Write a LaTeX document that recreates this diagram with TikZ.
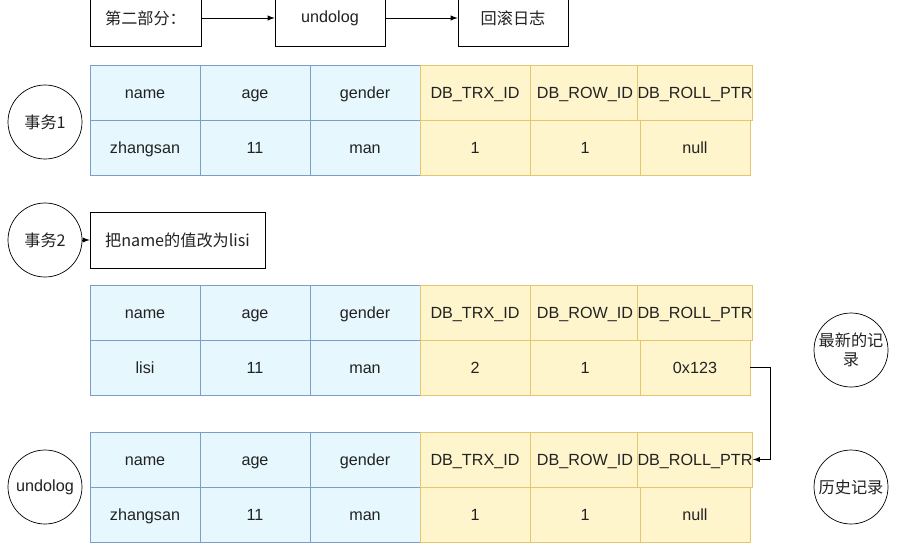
\documentclass[tikz,border=0pt]{standalone}
\usepackage{fontspec}
\setmainfont{Liberation Sans}
\newfontfamily\cjk{Noto Sans CJK SC}
\definecolor{cellblue}{HTML}{E6F8FE}
\definecolor{lineblue}{HTML}{7C9CCB}
\definecolor{cellyellow}{HTML}{FFF5CC}
\definecolor{lineyellow}{HTML}{E5C56E}
\definecolor{ink}{HTML}{222222}
\newcommand\pickcol[1]{\ifnum#1<4 \def\fc{cellblue}\def\dc{lineblue}\else\def\fc{cellyellow}\def\dc{lineyellow}\fi}

\tikzset{
  cell/.style={minimum width=2.2cm, minimum height=1.1cm, inner sep=0pt,
    text height=1.6ex, text depth=0.3ex},
  plainbox/.style={draw, minimum height=1.12cm, inner sep=0pt},
  ring/.style={draw, circle, minimum size=1.48cm, inner sep=0pt, align=center},
}

\begin{document}
\begin{tikzpicture}[x=0.02cm, y=-0.02cm, >=latex, font=\fontsize{9.2}{11}\selectfont, text=ink]
  \useasboundingbox (0,0) rectangle (901,551);
  \fill[white] (0,0) rectangle (901,551);
  \clip (0,0) rectangle (901,551);

  % top line
  \node[plainbox, minimum width=2.22cm] (part) at (145.5,18) {\cjk 第二部分：};
  \node[plainbox, minimum width=2.2cm] (undolog) at (330,18) {undolog};
  \node[plainbox, minimum width=2.2cm] (rollback) at (513,18) {\cjk 回滚日志};
  \draw[->] (part) -- (undolog);
  \draw[->] (undolog) -- (rollback);

  % headers of the three tables
  \foreach \t/\ty in {1/65,2/285,3/432}
    \foreach \c/\v in {1/name,2/age,3/gender,4/DB\_TRX\_ID,5/DB\_ROW\_ID,6/DB\_ROLL\_PTR} {
      \pickcol{\c}
      \node[cell, fill=\fc, draw=\dc] (t\t h\c) at ({35+110*\c},{\ty+27.5}) {\v};
    }
  % rows
  \foreach \c/\v in {1/zhangsan,2/11,3/man,4/1,5/1,6/null} {
    \pickcol{\c}
    \node[cell, fill=\fc, draw=\dc] (t1d\c) at ({35+110*\c},147.5) {\v};
  }
  \foreach \c/\v in {1/lisi,2/11,3/man,4/2,5/1,6/0x123} {
    \pickcol{\c}
    \node[cell, fill=\fc, draw=\dc] (t2d\c) at ({35+110*\c},367.5) {\v};
  }
  \foreach \c/\v in {1/zhangsan,2/11,3/man,4/1,5/1,6/null} {
    \pickcol{\c}
    \node[cell, fill=\fc, draw=\dc] (t3d\c) at ({35+110*\c},514.5) {\v};
  }

  % circles
  \node[ring] (tx1) at (45,122) {\cjk 事务1};
  \node[ring] (tx2) at (45,240) {\cjk 事务2};
  \node[ring] (undo) at (45,487) {undolog};
  \node[ring] (newest) at (851,350) {\cjk 最新的记\\\cjk 录};
  \node[ring] (hist) at (851,487) {\cjk 历史记录};

  \node[plainbox, minimum width=3.5cm] (change) at (177.5,240) {\cjk 把name的值改为lisi};
  \draw[->] (tx2) -- (change);

  % roll pointer
  \draw[->] (t2d6.east) -- ++(20,0) |- (t3h6.east);
\end{tikzpicture}
\end{document}
